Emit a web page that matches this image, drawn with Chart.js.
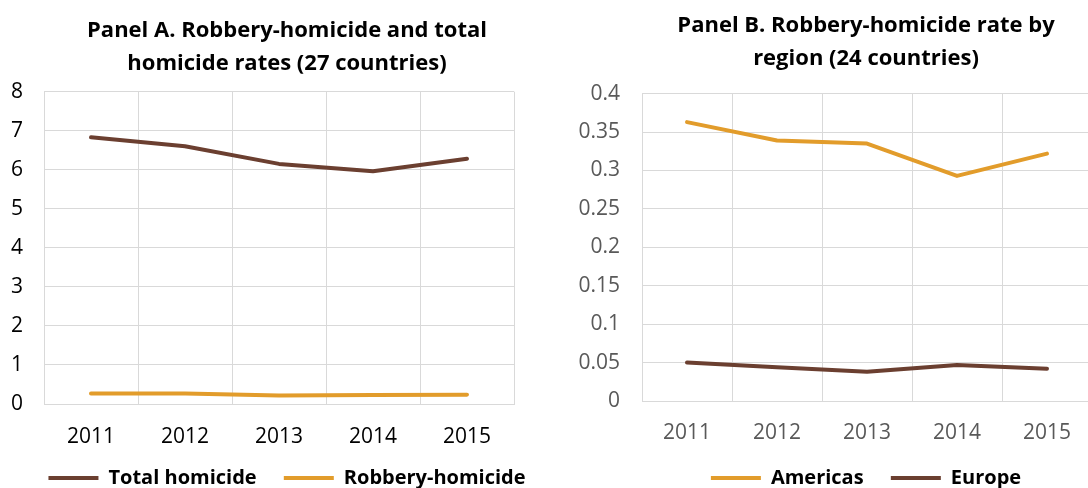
<!DOCTYPE html>
<html>
<head>
<meta charset="utf-8">
<script src="https://cdn.jsdelivr.net/npm/chart.js@4"></script>
<style>
  html, body { margin: 0; padding: 0; background: #fff; overflow: hidden; width: 1088px; height: 488px; }
  .panel { position: absolute; top: 0; }
  #panelA { left: 0; width: 574px; height: 498px; }
  #panelB { left: 548px; width: 636px; height: 498px; }
</style>
</head>
<body>
<div class="panel" id="panelA"><canvas id="chartA"></canvas></div>
<div class="panel" id="panelB"><canvas id="chartB"></canvas></div>
<script>
// data
const years = ["2011", "2012", "2013", "2014", "2015"];
const totalHomicide = [6.83, 6.6, 6.15, 5.96, 6.28];
const robberyHomicide = [0.27, 0.27, 0.22, 0.23, 0.24];
const americas = [0.363, 0.339, 0.335, 0.293, 0.322];
const europe = [0.050, 0.044, 0.038, 0.047, 0.042];

const BROWN = "#6b3f30";
const ORANGE = "#e29c2b";
const GRID = "#d9d9d9";
const FONT = "'Open Sans', sans-serif";

Chart.defaults.font.family = FONT;
Chart.defaults.animation = false;

function makeChart(id, opts) {
  const fixW = w => (s => { s.width = w; });
  return new Chart(document.getElementById(id), {
    type: "line",
    data: {
      labels: years,
      datasets: opts.series.map(s => ({
        label: s.label,
        data: s.data,
        borderColor: s.color,
        backgroundColor: s.color,
        borderWidth: 4,
        borderCapStyle: "round",
        borderJoinStyle: "round",
        pointRadius: 0,
        tension: 0,
        yAxisID: "y"
      }))
    },
    options: {
      responsive: true,
      maintainAspectRatio: false,
      plugins: {
        title: {
          display: true,
          text: opts.title,
          color: "#000",
          font: { size: 22, weight: "bold", lineHeight: 1.47 },
          padding: { top: opts.titleTop, bottom: opts.titleBottom }
        },
        legend: {
          position: "bottom",
          labels: {
            usePointStyle: true,
            pointStyle: "line",
            pointStyleWidth: 50,
            color: "#000",
            font: { size: 20, weight: "bold", lineHeight: 1 },
            padding: 22,
            // a little extra room between the two legend entries
            generateLabels: chart => {
              const items = Chart.defaults.plugins.legend.labels.generateLabels(chart);
              return items.map((it, i) =>
                i < items.length - 1 ? { ...it, text: it.text + " " } : it);
            }
          }
        },
        tooltip: { enabled: false }
      },
      scales: {
        x: {
          offset: true,
          grid: { color: GRID, lineWidth: 1, offset: true, drawTicks: false },
          border: { color: GRID },
          ticks: { color: opts.tickColor, font: { size: 21 }, padding: opts.xPad, maxRotation: 0 },
          afterFit: s => { s.height = opts.xH; }
        },
        y: {
          min: 0,
          max: opts.max,
          grid: { color: GRID, drawTicks: false },
          border: { color: GRID },
          ticks: {
            stepSize: opts.step,
            color: opts.tickColor,
            font: { size: 21 },
            padding: opts.yPad,
            callback: v => String(+v.toFixed(2))
          },
          afterFit: fixW(opts.leftW)
        },
        y2: {
          position: "right",
          display: true,
          grid: { display: false, drawTicks: false },
          border: { display: false },
          ticks: { display: false },
          afterFit: fixW(opts.rightW)
        }
      }
    }
  });
}

makeChart("chartA", {
  title: ["Panel A. Robbery-homicide and total", "homicide rates (27 countries)"],
  series: [
    { label: "Total homicide", data: totalHomicide, color: BROWN },
    { label: "Robbery-homicide", data: robberyHomicide, color: ORANGE }
  ],
  max: 8, step: 1, tickColor: "#000",
  leftW: 44, rightW: 60, yPad: 21, xPad: 20, xH: 42,
  titleTop: 15, titleBottom: 12
});

makeChart("chartB", {
  title: ["Panel B. Robbery-homicide rate by", "region (24 countries)"],
  series: [
    { label: "Americas", data: americas, color: ORANGE },
    { label: "Europe", data: europe, color: BROWN }
  ],
  max: 0.4, step: 0.05, tickColor: "#595959",
  leftW: 94, rightW: 92, yPad: 22, xPad: 19, xH: 45,
  titleTop: 10, titleBottom: 19
});
</script>
</body>
</html>
